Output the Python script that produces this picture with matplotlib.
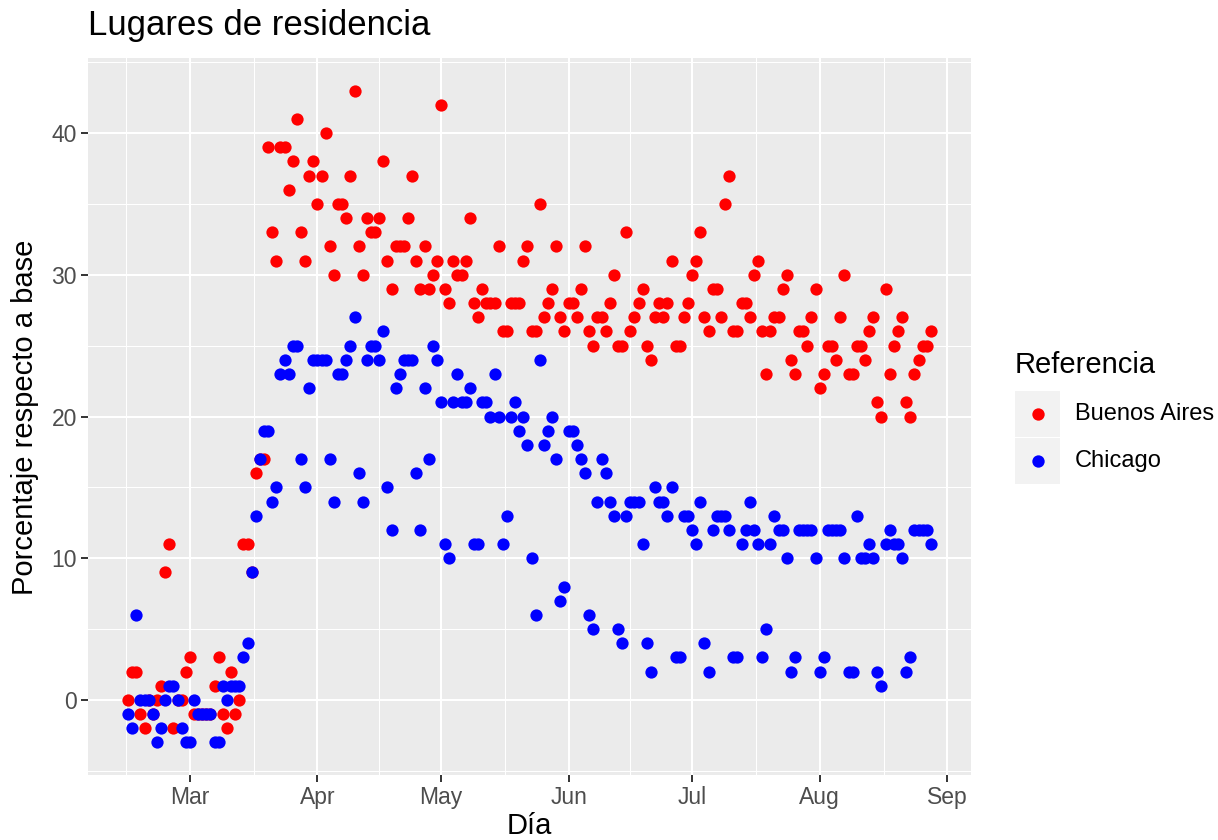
import numpy as np
import matplotlib
matplotlib.use("Agg")
import matplotlib.pyplot as plt
import matplotlib.dates as mdates
from matplotlib.patches import Rectangle
from matplotlib.lines import Line2D

plt.rcParams['font.family'] = ['Liberation Sans', 'DejaVu Sans']

# ---------------- data ----------------
start_date = '2020-02-15'

buenos_aires = [
    0, 2, 2, -1, -2, 0, -1, 0, 1, 9,
    11, -2, 0, 0, 2, 3, -1, -1, -1, -1,
    -1, 1, 3, -1, -2, 2, -1, 0, 11, 11,
    9, 16, 17, 17, 39, 33, 31, 39, 39, 36,
    38, 41, 33, 31, 37, 38, 35, 37, 40, 32,
    30, 35, 35, 34, 37, 43, 32, 30, 34, 33,
    33, 34, 38, 31, 29, 32, 32, 32, 34, 37,
    31, 29, 32, 29, 30, 31, 42, 29, 28, 31,
    30, 30, 31, 34, 28, 27, 29, 28, 28, 28,
    32, 26, 26, 28, 28, 28, 31, 32, 26, 26,
    35, 27, 28, 29, 32, 27, 26, 28, 28, 27,
    29, 32, 26, 25, 27, 27, 26, 28, 30, 25,
    25, 33, 26, 27, 28, 29, 25, 24, 27, 28,
    27, 28, 31, 25, 25, 27, 28, 30, 31, 33,
    27, 26, 29, 29, 27, 35, 37, 26, 26, 28,
    28, 27, 30, 31, 26, 23, 26, 27, 27, 29,
    30, 24, 23, 26, 26, 25, 27, 29, 22, 23,
    25, 25, 24, 27, 30, 23, 23, 25, 25, 24,
    26, 27, 21, 20, 29, 23, 25, 26, 27, 21,
    20, 23, 24, 25, 25, 26,
]

chicago = [
    -1, -2, 6, 0, 0, 0, -1, -3, -2, 0,
    1, 1, 0, -2, -3, -3, 0, -1, -1, -1,
    -1, -3, -3, 1, 0, 1, 1, 1, 3, 4,
    9, 13, 17, 19, 19, 14, 15, 23, 24, 23,
    25, 25, 17, 15, 22, 24, 24, 24, 24, 17,
    14, 23, 23, 24, 25, 27, 16, 14, 24, 25,
    25, 24, 26, 15, 12, 22, 23, 24, 24, 24,
    16, 12, 22, 17, 25, 24, 21, 11, 10, 21,
    23, 21, 21, 22, 11, 11, 21, 21, 20, 23,
    20, 11, 13, 20, 21, 19, 20, 18, 10, 6,
    24, 18, 19, 20, 17, 7, 8, 19, 19, 18,
    17, 16, 6, 5, 14, 17, 16, 14, 13, 5,
    4, 13, 14, 14, 14, 11, 4, 2, 15, 14,
    14, 13, 15, 3, 3, 13, 13, 12, 11, 14,
    4, 2, 12, 13, 13, 13, 12, 3, 3, 11,
    12, 14, 12, 11, 3, 5, 11, 13, 12, 12,
    10, 2, 3, 12, 12, 12, 12, 10, 2, 3,
    12, 12, 12, 12, 10, 2, 2, 13, 10, 10,
    11, 10, 2, 1, 11, 12, 11, 11, 10, 2,
    3, 12, 12, 12, 12, 11,
]

series_names = ['Buenos Aires', 'Chicago']
series_colors = ['#FF0000', '#0000FF']

title_text = 'Lugares de residencia'
x_label = 'Día'
y_label = 'Porcentaje respecto a base'
legend_title = 'Referencia'

month_ticks = ['2020-03-01', '2020-04-01', '2020-05-01', '2020-06-01',
               '2020-07-01', '2020-08-01', '2020-09-01']
month_labels = ['Mar', 'Apr', 'May', 'Jun', 'Jul', 'Aug', 'Sep']
y_ticks = [0, 10, 20, 30, 40]

# ---------------- figure ----------------
W, H = 1218, 840
fig = plt.figure(figsize=(W / 100, H / 100), dpi=100)
fig.patch.set_facecolor('white')

pl, pr, pt, pb = 88, 971, 58, 775
ax = fig.add_axes([pl / W, 1 - pb / H, (pr - pl) / W, (pb - pt) / H])
ax.set_facecolor('#EBEBEB')
for s in ax.spines.values():
    s.set_visible(False)

dates = np.datetime64(start_date) + np.arange(len(buenos_aires))
xnum = mdates.date2num(dates)

all_vals = np.array(buenos_aires + chicago, dtype=float)
ymin, ymax = all_vals.min(), all_vals.max()
yr = ymax - ymin
ax.set_ylim(ymin - 0.05 * yr, ymax + 0.05 * yr)
xr = xnum.max() - xnum.min()
ax.set_xlim(xnum.min() - 0.05 * xr, xnum.max() + 0.05 * xr)

# grid (ggplot-style minor breaks: midpoints, extended by first interval)
maj_x = mdates.date2num(np.array(month_ticks, dtype='datetime64[D]'))
step = maj_x[1] - maj_x[0]
ext = np.concatenate([[maj_x[0] - step], maj_x, [maj_x[-1] + step]])
min_x = (ext[:-1] + ext[1:]) / 2
min_y = [-5, 5, 15, 25, 35, 45]

for v in min_x:
    ax.axvline(v, color='white', lw=0.75, zorder=0.5)
for v in min_y:
    ax.axhline(v, color='white', lw=0.75, zorder=0.5)
for v in maj_x:
    ax.axvline(v, color='white', lw=1.5, zorder=0.6)
for v in y_ticks:
    ax.axhline(v, color='white', lw=1.5, zorder=0.6)

# points
for vals, col in zip([buenos_aires, chicago], series_colors):
    ax.scatter(xnum, vals, s=78, color=col, linewidths=0, zorder=3)

ax.set_xticks(maj_x)
ax.set_xticklabels(month_labels)
ax.set_yticks(y_ticks)
ax.set_yticklabels([str(v) for v in y_ticks])
ax.tick_params(axis='both', which='major', length=5, width=1.4,
               color='#333333', labelcolor='#4D4D4D', labelsize=16.5, pad=3)

# titles
fig.text(pl / W, 1 - 26 / H, title_text, fontsize=25, color='black',
         ha='left', va='center')
fig.text((pl + pr) / 2 / W, 1 - 826 / H, x_label, fontsize=21, color='black',
         ha='center', va='center')
fig.text(25 / W, 1 - 417 / H, y_label, fontsize=21,
         color='black', ha='center', va='center', rotation=90)

# legend
fig.text(1015 / W, 1 - 365 / H, legend_title, fontsize=21, color='black',
         ha='left', va='center')
key_x0, key_w, key_h = 1015, 45, 46
key_tops = [391, 438]
for top, col, name in zip(key_tops, series_colors, series_names):
    fig.add_artist(Rectangle((key_x0 / W, 1 - (top + key_h) / H), key_w / W,
                             key_h / H, transform=fig.transFigure,
                             facecolor='#F2F2F2', edgecolor='none'))
    cy = top + key_h / 2
    fig.add_artist(Line2D([(key_x0 + key_w / 2) / W], [1 - cy / H],
                          transform=fig.transFigure, marker='o',
                          markersize=8.9, color=col, markeredgewidth=0,
                          linestyle='none'))
    fig.text(1075 / W, 1 - cy / H, name, fontsize=17, color='black',
             ha='left', va='center')

fig.savefig('out.png', dpi=100, facecolor='white')
